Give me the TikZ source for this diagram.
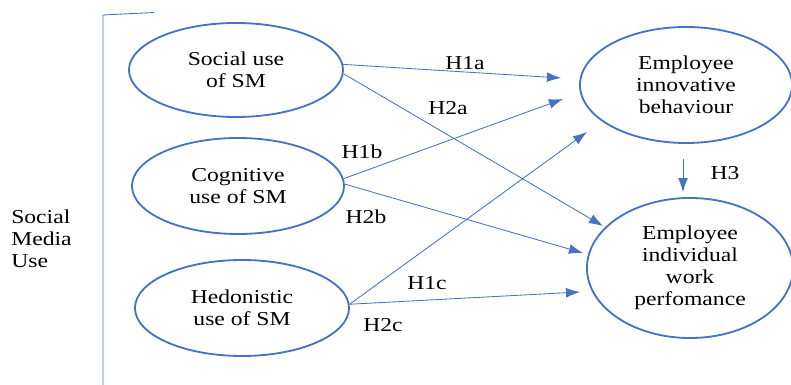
\documentclass[tikz,border=0pt]{standalone}
\usepackage{fontspec}
\setmainfont{Liberation Serif}[FakeStretch=1.2]
\usetikzlibrary{positioning,shapes,arrows.meta,calc}
\usetikzlibrary{shapes.geometric}
\definecolor{smblue}{RGB}{68,114,196}
\tikzstyle{every text node part}=[font=\fontsize{14}{15.6}\selectfont]
\tikzstyle{construct}=[ellipse,draw=smblue,line width=1.3pt,inner sep=0pt,align=center]
\tikzstyle{hyp}=[->,draw=smblue,line width=0.6pt]

\begin{document}
\begin{tikzpicture}[x=0.025cm,y=-0.025cm,>={Latex[length=10pt,width=7pt]}]
      \useasboundingbox (0,0) rectangle (791,385);

      \node [construct,minimum width=5.35cm,minimum height=2.35cm] (social) at (236,70) {Social use\\of SM};
      \node [construct,minimum width=5.3cm,minimum height=2.4cm] (cognitive) at (238,186) {Cognitive\\use of SM};
      \node [construct,minimum width=5.35cm,minimum height=2.4cm] (hedonic) at (242,308) {Hedonistic\\use of SM};
      \node [construct,minimum width=5.3cm,minimum height=2.9cm] (innov) at (686,85) {Employee\\innovative\\behaviour};
      \node [construct,minimum width=5.15cm,minimum height=3.5cm] (perf) at (690,268) {Employee\\individual\\work\\perfomance};

      \node [align=left,anchor=west,inner sep=0pt] (smuse) at (11,239) {Social\\Media\\Use};
      \draw [smblue,line width=0.6pt] (154,12.5) -- (103,15) -- (103,385);

      \coordinate (t1a) at (561,78);
      \coordinate (t2a) at (603,226);
      \coordinate (t1b) at (563,99);
      \coordinate (t2b) at (583,253);
      \coordinate (t1c) at (587,132);
      \coordinate (t2c) at (580,292);

      \draw [hyp] (social.3) -- (t1a);
      \draw [hyp] (social.-2) -- (t2a);
      \draw [hyp] (cognitive.4) -- (t1b);
      \draw [hyp] (cognitive.1) -- (t2b);
      \draw [hyp] (hedonic.2) -- (t1c);
      \draw [hyp] (hedonic.2) -- (t2c);
      \draw [hyp] ($(innov.south)+(-3,15)$) -- ($(perf.north)+(-7,-5)$);

      \node (h1a) at (465,63) {H1a};
      \node (h2a) at (448,108) {H2a};
      \node (h1b) at (362,152) {H1b};
      \node (h2b) at (366,217) {H2b};
      \node (h1c) at (427,283) {H1c};
      \node (h2c) at (383,325) {H2c};
      \node (h3) at (725,173) {H3};

    \end{tikzpicture}
\end{document}
